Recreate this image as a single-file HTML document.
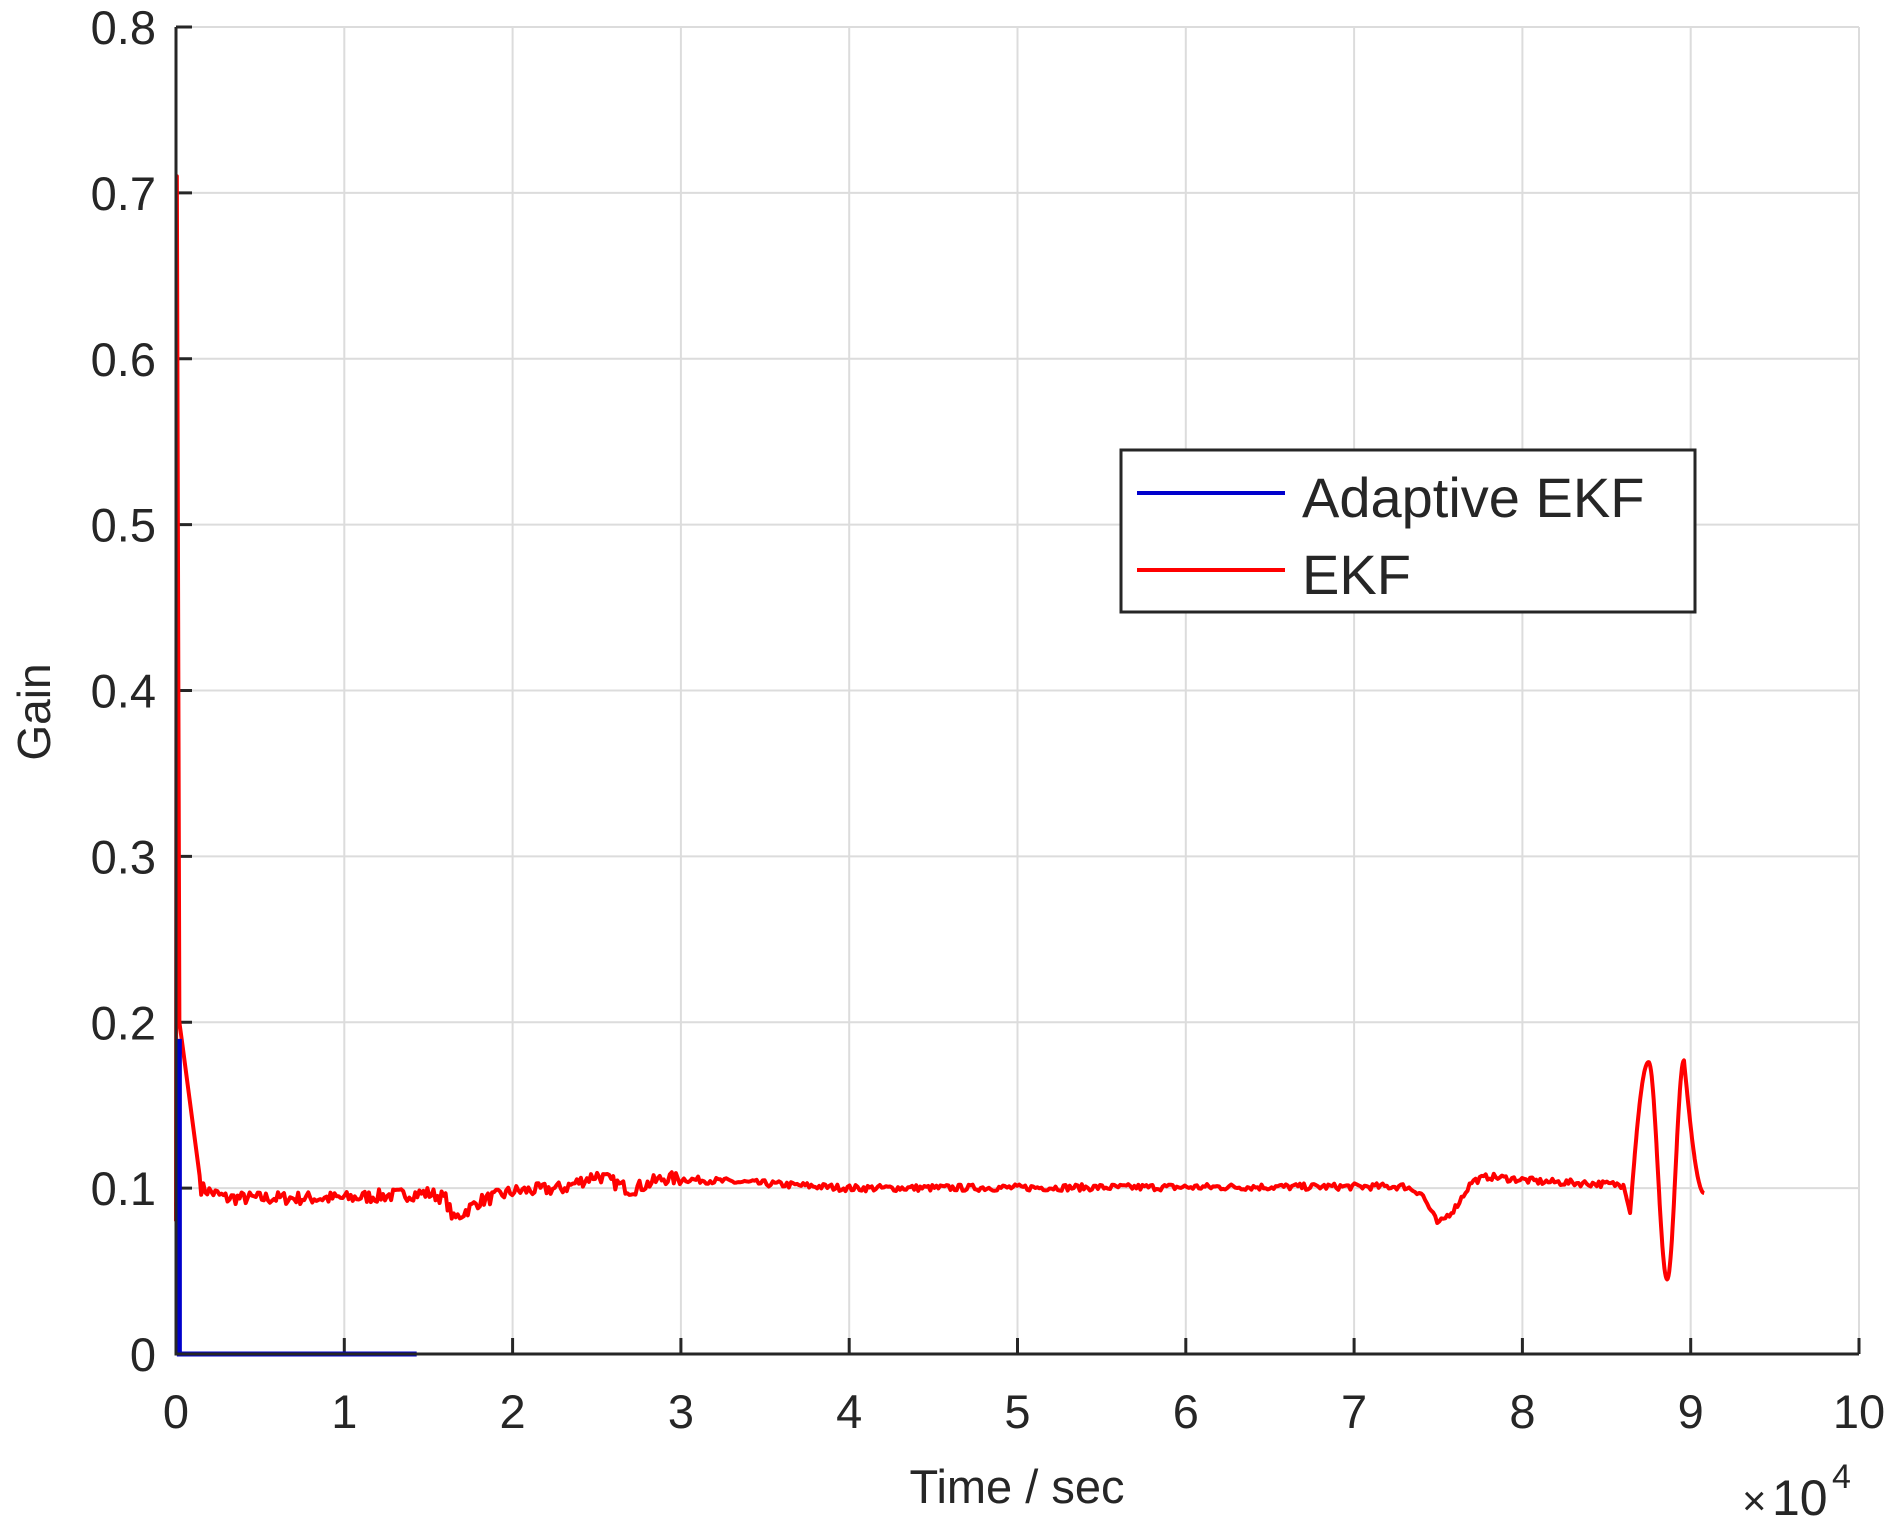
<!DOCTYPE html>
<html><head><style>
html,body{margin:0;padding:0;background:#fff;}
svg text{font-family:"Liberation Sans",sans-serif;fill:#262626;}
</style></head><body>
<svg id="s" width="1899" height="1532" xmlns="http://www.w3.org/2000/svg">
<rect width="1899" height="1532" fill="#fff"/>
<g id="grid" stroke="#dcdcdc" stroke-width="2"></g>
<g id="ticks" stroke="#262626" stroke-width="3"></g>
<path id="red" fill="none" stroke="#ff0000" stroke-width="4" stroke-linejoin="round"/>
<path id="blue" fill="none" stroke="#0000cc" stroke-width="5"/>
<path d="M176,27 L176,1354 L1859,1354" fill="none" stroke="#262626" stroke-width="3"/>
<g id="lab" font-size="47"></g>
<text x="50" y="712" font-size="46" text-anchor="middle" transform="rotate(-90 50 712)">Gain</text>
<text x="1017" y="1503" font-size="47" text-anchor="middle">Time / sec</text>
<text x="1742" y="1515" font-size="42">×</text>
<text x="1772" y="1515" font-size="50">10</text>
<text x="1832" y="1488" font-size="34">4</text>
<rect x="1121" y="450" width="574" height="162" fill="#fff" stroke="#262626" stroke-width="3"/>
<line x1="1137" y1="493" x2="1285" y2="493" stroke="#0000cc" stroke-width="4"/>
<line x1="1137" y1="570" x2="1285" y2="570" stroke="#ff0000" stroke-width="4"/>
<text x="1302" y="517" font-size="56">Adaptive EKF</text>
<text x="1302" y="594" font-size="56">EKF</text>
</svg>
<script>
var L=176,R=1859,T=27,B=1354;
function X(v){return L+(R-L)*v/10;}
function Y(v){return B-(B-T)*v/0.8;}
var g=document.getElementById('grid'),t=document.getElementById('ticks'),lab=document.getElementById('lab'),ns="http://www.w3.org/2000/svg";
function el(p,n,a,txt){var e=document.createElementNS(ns,n);for(var k in a)e.setAttribute(k,a[k]);if(txt!=null)e.textContent=txt;p.appendChild(e);}
for(var i=0;i<=10;i++){var x=X(i);if(i>0)el(g,'line',{x1:x,y1:T,x2:x,y2:B});el(t,'line',{x1:x,y1:B,x2:x,y2:B-16});el(lab,'text',{x:x,y:B+74,'text-anchor':'middle'},String(i));}
for(var j=0;j<=8;j++){var y=Y(j/10);if(j>0)el(g,'line',{x1:L,y1:y,x2:R,y2:y});el(t,'line',{x1:L,y1:y,x2:L+16,y2:y});el(lab,'text',{x:L-20,y:y+17,'text-anchor':'end'},j==0?'0':(j/10).toFixed(1));}
var seed=7;function rnd(){seed=(seed*16807)%2147483647;return seed/2147483647-0.5;}
var kp=[[0.15,0.1],[0.3,0.094],[1.0,0.094],[1.5,0.097],[1.6,0.094],[1.65,0.081],[1.8,0.092],[2.0,0.098],[2.3,0.1],[2.5,0.108],[2.7,0.099],[2.9,0.106],[3.1,0.105],[4,0.1],[7.3,0.101],[7.4,0.097],[7.5,0.078],[7.6,0.088],[7.7,0.104],[7.8,0.107],[8.1,0.104],[8.6,0.102]];
function interp(v){for(var k=0;k<kp.length-1;k++){if(v<=kp[k+1][0]){var a=kp[k],b=kp[k+1];return a[1]+(b[1]-a[1])*(v-a[0])/(b[0]-a[0]);}}return kp[kp.length-1][1];}
var d="M"+X(0)+","+Y(0.08)+" L"+X(0.005)+","+Y(0.71)+" L"+X(0.02)+","+Y(0.2)+" L"+X(0.04)+","+Y(0.185);
for(var v=0.06;v<0.15;v+=0.02){d+=" L"+X(v)+","+Y(0.185-(0.085)*(v-0.04)/0.11);}
for(var v=0.15;v<=8.6;v+=0.012){var amp=v<3?0.004:0.002;d+=" L"+X(v).toFixed(1)+","+Y(interp(v)+amp*rnd()*2).toFixed(1);}
// smooth oscillation via sine segments
for(var v=8.6;v<=9.08;v+=0.004){var y;
 if(v<8.64){y=0.102-(v-8.6)/0.04*0.017;}
 else{var ph=(v-8.64)/0.21*2*Math.PI;var env=v<8.85?1:1;y=0.11-0.065*Math.cos(ph*1)+0;
  // custom: peaks at 8.75 (0.176), trough 8.86 (0.045), peak 8.96 (0.177), end 9.08 (0.097)
  if(v<8.75){y=0.085+(0.176-0.085)*Math.sin((v-8.64)/0.11*Math.PI/2);}
  else if(v<8.86){y=0.1105+0.0655*Math.cos((v-8.75)/0.11*Math.PI);}
  else if(v<8.96){y=0.111-0.066*Math.cos((v-8.86)/0.10*Math.PI);}
  else{y=0.177-(0.177-0.097)*Math.sin((v-8.96)/0.12*Math.PI/2);}
 }
 d+=" L"+X(v).toFixed(1)+","+Y(y).toFixed(1);}
document.getElementById('red').setAttribute('d',d);
document.getElementById('blue').setAttribute('d',"M"+X(0.02)+","+Y(0.19)+" L"+X(0.02)+","+Y(0)+" L"+X(1.43)+","+Y(0));
</script>
</body></html>
